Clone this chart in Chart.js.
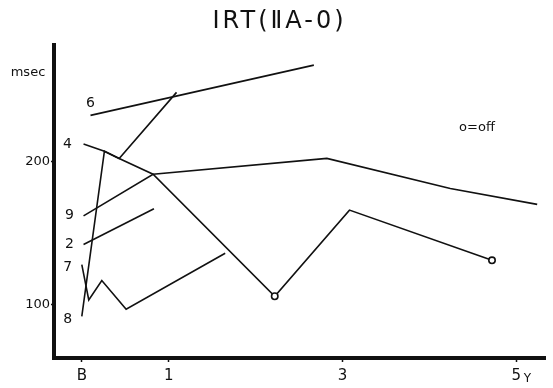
<!DOCTYPE html>
<html>
<head>
<meta charset="utf-8">
<script src="https://cdn.jsdelivr.net/npm/chart.js@4"></script>
<style>
  html, body { margin: 0; padding: 0; background: #fff; }
  #wrap { width: 553px; height: 388px; }
</style>
</head>
<body>
<div id="wrap"><canvas id="chart" width="553" height="388"></canvas></div>
<script>
// IRT (IIA-0) — response time per patient, years after baseline

const TITLE = "IRT(\u2161A-0)";

// x = years (B = baseline = 0), y = msec
const years6 = [0.10, 2.67];
const msec6  = [232, 267];

const years4 = [0.02, 0.26, 0.43, 0.82, 2.22, 3.08, 4.72];
const msec4  = [212, 207, 202, 191, 106, 166, 131];
const off4   = [false, false, false, false, true, false, true]; // o = off

const years8 = [0.00, 0.26, 0.43, 1.09];
const msec8  = [92, 207, 202, 248];

const years9 = [0.02, 0.82, 2.82, 4.24, 5.24];
const msec9  = [162, 191, 202, 181, 170];

const years2 = [0.02, 0.83];
const msec2  = [142, 167];

const years7 = [0.00, 0.08, 0.23, 0.51, 1.65];
const msec7  = [128, 103.5, 117, 97, 136];

const xTickValues = [0, 1, 3, 5];
const xTickLabels = ["B", "1", "3", "5"];
const yTickValues = [100, 200];

const INK = "#111";
const FONT = "'DejaVu Sans', sans-serif";

function pts(xs, ys) {
  return xs.map((x, i) => ({ x, y: ys[i] }));
}

function line(label, xs, ys, off) {
  return {
    label,
    data: pts(xs, ys),
    borderColor: INK,
    borderWidth: 1.6,
    tension: 0,
    fill: false,
    pointRadius: off ? off.map(o => (o ? 3.2 : 0)) : 0,
    pointBorderWidth: 1.6,
    pointBorderColor: INK,
    pointBackgroundColor: "#fff",
    pointHoverRadius: 0
  };
}

// series number labels, drawn beside the first point of each line
const labelShift = { "6": [0, -12], "4": [-16, 0], "9": [-14, 0], "2": [-14, 0], "7": [-14, 3], "8": [-14, 3] };

const overlay = {
  id: "overlay",
  afterDraw(chart) {
    const { ctx, chartArea, scales: { x, y } } = chart;
    ctx.save();
    ctx.fillStyle = INK;
    ctx.textAlign = "center";
    ctx.textBaseline = "middle";

    ctx.font = "24px " + FONT;
    ctx.letterSpacing = "3px";
    ctx.fillText(TITLE, chart.width / 2 + 3, 22);
    ctx.letterSpacing = "0px";

    ctx.font = "13px " + FONT;
    ctx.fillText("msec", 28, 73);
    ctx.fillText("o=off", chartArea.right - 68, 128);

    chart.data.datasets.forEach((ds, i) => {
      const p = chart.getDatasetMeta(i).data[0];
      const [dx, dy] = labelShift[ds.label] || [-14, 0];
      ctx.font = "14px " + FONT;
      ctx.fillText(ds.label, p.x + dx, p.y + dy);
    });

    ctx.font = "12px " + FONT;
    ctx.fillText("Y", x.getPixelForValue(5) + 11, chartArea.bottom + 21);
    ctx.restore();
  }
};

new Chart(document.getElementById("chart"), {
  type: "line",
  data: {
    datasets: [
      line("6", years6, msec6),
      line("4", years4, msec4, off4),
      line("8", years8, msec8),
      line("9", years9, msec9),
      line("2", years2, msec2),
      line("7", years7, msec7)
    ]
  },
  options: {
    responsive: false,
    animation: false,
    layout: { padding: { top: 45, right: 8, left: 0, bottom: 0 } },
    plugins: {
      legend: { display: false },
      tooltip: { enabled: false },
      title: { display: false }
    },
    scales: {
      x: {
        type: "linear",
        min: -0.32,
        max: 5.33,
        afterBuildTicks: (s) => { s.ticks = xTickValues.map(v => ({ value: v })); },
        afterFit: (s) => { s.height = 30; },
        ticks: {
          autoSkip: false,
          maxRotation: 0,
          padding: 5,
          color: INK,
          font: { family: FONT, size: 15 },
          callback: (v) => xTickLabels[xTickValues.indexOf(v)]
        },
        grid: { drawOnChartArea: false, tickLength: 4, tickWidth: 1.5, tickColor: INK },
        border: { display: true, width: 4, color: INK }
      },
      y: {
        type: "linear",
        min: 63,
        max: 281,
        afterBuildTicks: (s) => { s.ticks = yTickValues.map(v => ({ value: v })); },
        afterFit: (s) => { s.width = 54; },
        ticks: {
          autoSkip: false,
          padding: 1,
          color: INK,
          font: { family: FONT, size: 13 }
        },
        grid: { drawOnChartArea: false, tickLength: 3, tickWidth: 1.5, tickColor: INK },
        border: { display: true, width: 4, color: INK }
      }
    }
  },
  plugins: [overlay]
});
</script>
</body>
</html>
